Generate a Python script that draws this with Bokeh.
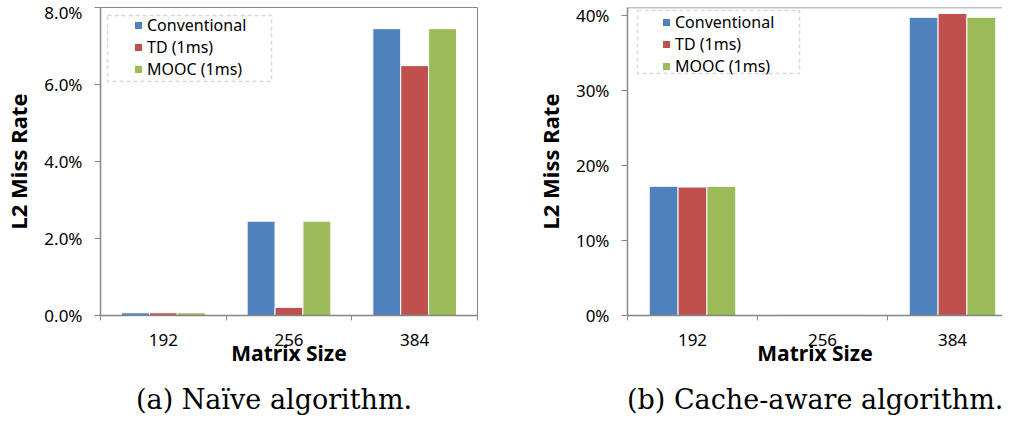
from bokeh.plotting import figure
from bokeh.layouts import row, column
from bokeh.models import (ColumnDataSource, Range1d, FixedTicker, NumeralTickFormatter,
                          Legend, LegendItem, BoxAnnotation, Span, Div)
from bokeh.transform import dodge
from bokeh.embed import file_html
from bokeh.resources import INLINE

# ---------------- data ----------------
categories = ["192", "256", "384"]
series = ["Conventional", "TD (1ms)", "MOOC (1ms)"]
colors = ["#4F81BD", "#C0504D", "#9BBB59"]

naive_conventional = [0.0007, 0.0245, 0.0745]
naive_td = [0.0007, 0.0021, 0.0649]
naive_mooc = [0.0007, 0.0245, 0.0745]

aware_conventional = [0.172, 0.001, 0.397]
aware_td = [0.171, 0.001, 0.402]
aware_mooc = [0.172, 0.001, 0.397]

naive_ticks = [0.0, 0.02, 0.04, 0.06, 0.08]
aware_ticks = [0.0, 0.1, 0.2, 0.3, 0.4]

captions = ["(a) Naïve algorithm.", "(b) Cache-aware algorithm."]

AXIS_GRAY = "#868686"
FONT = "Noto Sans"
FIG_H = 378


def make_chart(values, y_end, yticks, yfmt, width, border_left, border_right,
               border_top, x_end, legend_loc, box, outline):
    src = ColumnDataSource(dict(
        x=[i + 0.5 for i in range(len(categories))],
        s0=values[0], s1=values[1], s2=values[2],
    ))
    p = figure(width=width, height=FIG_H,
               x_range=Range1d(0, x_end), y_range=Range1d(0, y_end),
               output_backend="svg", toolbar_location=None,
               min_border_left=border_left, min_border_right=border_right,
               min_border_top=border_top, min_border_bottom=63)
    p.xgrid.visible = False
    p.ygrid.visible = False
    p.background_fill_color = "white"
    p.border_fill_color = "white"
    if outline:
        p.outline_line_color = AXIS_GRAY
        p.outline_line_width = 1
    else:
        p.outline_line_color = None
        p.add_layout(Span(location=y_end, dimension="width",
                          line_color=AXIS_GRAY, line_width=1.5))

    offsets = [-0.222, 0.0, 0.222]
    renderers = []
    for k in range(3):
        r = p.vbar(x=dodge("x", offsets[k], range=p.x_range), top="s%d" % k,
                   width=0.222, source=src, fill_color=colors[k],
                   line_color="white", line_width=1)
        renderers.append(r)

    # x axis: labels at category centres, tick marks at category boundaries
    xa = p.xaxis[0]
    xa.ticker = FixedTicker(ticks=[i + 0.5 for i in range(len(categories))],
                            minor_ticks=list(range(len(categories) + 1)))
    xa.major_label_overrides = {i + 0.5: c for i, c in enumerate(categories)}
    xa.major_tick_line_color = None
    xa.major_tick_out = 5
    xa.major_tick_in = 0
    xa.minor_tick_out = 5
    xa.minor_tick_in = 0
    xa.minor_tick_line_color = AXIS_GRAY
    xa.axis_line_color = AXIS_GRAY
    xa.axis_line_width = 1.5
    xa.major_label_text_font = FONT
    xa.major_label_text_font_size = "17px"
    xa.major_label_text_color = "black"
    xa.major_label_standoff = 13
    xa.axis_label = "Matrix Size"
    xa.axis_label_text_font = FONT
    xa.axis_label_text_font_style = "bold"
    xa.axis_label_text_font_size = "21px"
    xa.axis_label_text_color = "black"
    xa.axis_label_standoff = -10

    ya = p.yaxis[0]
    ya.ticker = FixedTicker(ticks=yticks)
    ya.formatter = NumeralTickFormatter(format=yfmt)
    ya.major_tick_out = 6
    ya.major_tick_in = 0
    ya.minor_tick_line_color = None
    ya.major_tick_line_color = AXIS_GRAY
    ya.axis_line_color = AXIS_GRAY
    ya.axis_line_width = 1.5
    ya.major_label_text_font = FONT
    ya.major_label_text_font_size = "17px"
    ya.major_label_text_color = "black"
    ya.major_label_standoff = 12
    ya.axis_label = "L2 Miss Rate"
    ya.axis_label_text_font = FONT
    ya.axis_label_text_font_style = "bold"
    ya.axis_label_text_font_size = "22px"
    ya.axis_label_text_color = "black"
    ya.axis_label_standoff = 8

    legend = Legend(items=[LegendItem(label=series[k], renderers=[renderers[k]])
                           for k in range(3)],
                    location=legend_loc, padding=0, spacing=0,
                    glyph_width=10, glyph_height=10, label_height=20,
                    label_standoff=4, label_text_font=FONT,
                    label_text_font_size="16px", label_text_color="black",
                    border_line_color=None, background_fill_alpha=0)
    p.add_layout(legend)

    p.add_layout(BoxAnnotation(left=box[0], right=box[1], top=box[2], bottom=box[3],
                               left_units="screen", right_units="screen",
                               top_units="screen", bottom_units="screen",
                               fill_color=None, fill_alpha=0,
                               line_color="#808080", line_dash="4 3",
                               line_width=1.5))
    return p


def caption_div(text, width, pad_left):
    html = ('<div style="font-family:\'DejaVu Serif\';font-size:27px;line-height:32px;'
            'color:black;white-space:nowrap;position:relative;top:6px;'
            'padding-left:%dpx">%s</div>' % (pad_left, text))
    return Div(text=html, width=width, height=32, margin=0)


p1 = make_chart([naive_conventional, naive_td, naive_mooc], 0.08, naive_ticks, "0.0%",
                width=512, border_left=93, border_right=35, border_top=7, x_end=3,
                legend_loc=(33, 235), box=(7, 171, 300, 234), outline=True)

p2 = make_chart([aware_conventional, aware_td, aware_mooc], 0.41, aware_ticks, "0%",
                width=490, border_left=115, border_right=0, border_top=0, x_end=375 / 130,
                legend_loc=(34, 238), box=(10, 172, 305, 242), outline=False)

d1 = caption_div(captions[0], 512, 136)
d2 = caption_div(captions[1], 490, 115)

layout = column(row(p1, p2), row(d1, d2))
open("out.html", "w").write(file_html(layout, INLINE))
